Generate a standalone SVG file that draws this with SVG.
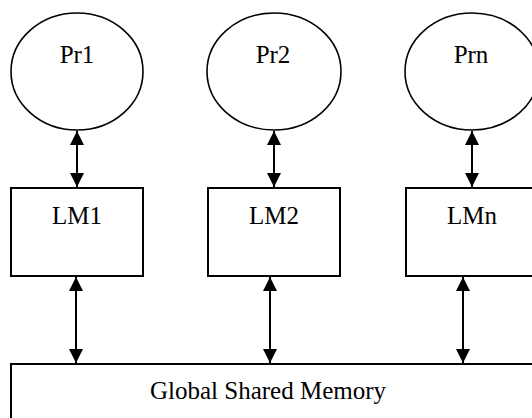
<svg xmlns="http://www.w3.org/2000/svg" width="532" height="418" viewBox="0 0 532 418">
<style>
.shape{fill:#fff;stroke:#000;stroke-width:2}
.ell{fill:#fff;stroke:#000;stroke-width:1.6}
.lbl{font-family:"Liberation Serif","Times New Roman",serif;font-size:25px;fill:#000;text-anchor:middle}
.conn{stroke:#000;stroke-width:2;fill:none;marker-start:url(#ah);marker-end:url(#ah)}
</style>
<defs>
<marker id="ah" viewBox="0 0 14 14" refX="14" refY="7" markerWidth="14" markerHeight="14" markerUnits="userSpaceOnUse" orient="auto-start-reverse">
<path d="M0,0 L14,7 L0,14 Z" fill="#000"/>
</marker>
</defs>
<rect width="532" height="418" fill="#fff"/>
<g id="pr1"><ellipse class="ell" cx="77" cy="71.5" rx="66" ry="58.5"/><text class="lbl" x="77" y="63">Pr1</text></g>
<g id="pr2"><ellipse class="ell" cx="274" cy="71.5" rx="67" ry="58.5"/><text class="lbl" x="273" y="63">Pr2</text></g>
<g id="prn"><ellipse class="ell" cx="472" cy="71.5" rx="67" ry="58.5"/><text class="lbl" x="471" y="63">Prn</text></g>
<g id="lm1"><rect class="shape" x="11" y="188" width="132" height="88"/><text class="lbl" x="77" y="224">LM1</text></g>
<g id="lm2"><rect class="shape" x="208" y="188" width="132" height="88"/><text class="lbl" x="274" y="224">LM2</text></g>
<g id="lmn"><rect class="shape" x="406" y="188" width="132" height="88"/><text class="lbl" x="472" y="224">LMn</text></g>
<g id="gsm"><rect class="shape" x="11" y="364" width="530" height="70"/><text class="lbl" x="268" y="399">Global Shared Memory</text></g>
<g id="connectors">
<line class="conn" x1="77" y1="131" x2="77" y2="187"/>
<line class="conn" x1="274" y1="131" x2="274" y2="187"/>
<line class="conn" x1="472" y1="131" x2="472" y2="187"/>
<line class="conn" x1="76" y1="277" x2="76" y2="363"/>
<line class="conn" x1="270" y1="277" x2="270" y2="363"/>
<line class="conn" x1="463" y1="277" x2="463" y2="363"/>
</g>
</svg>
